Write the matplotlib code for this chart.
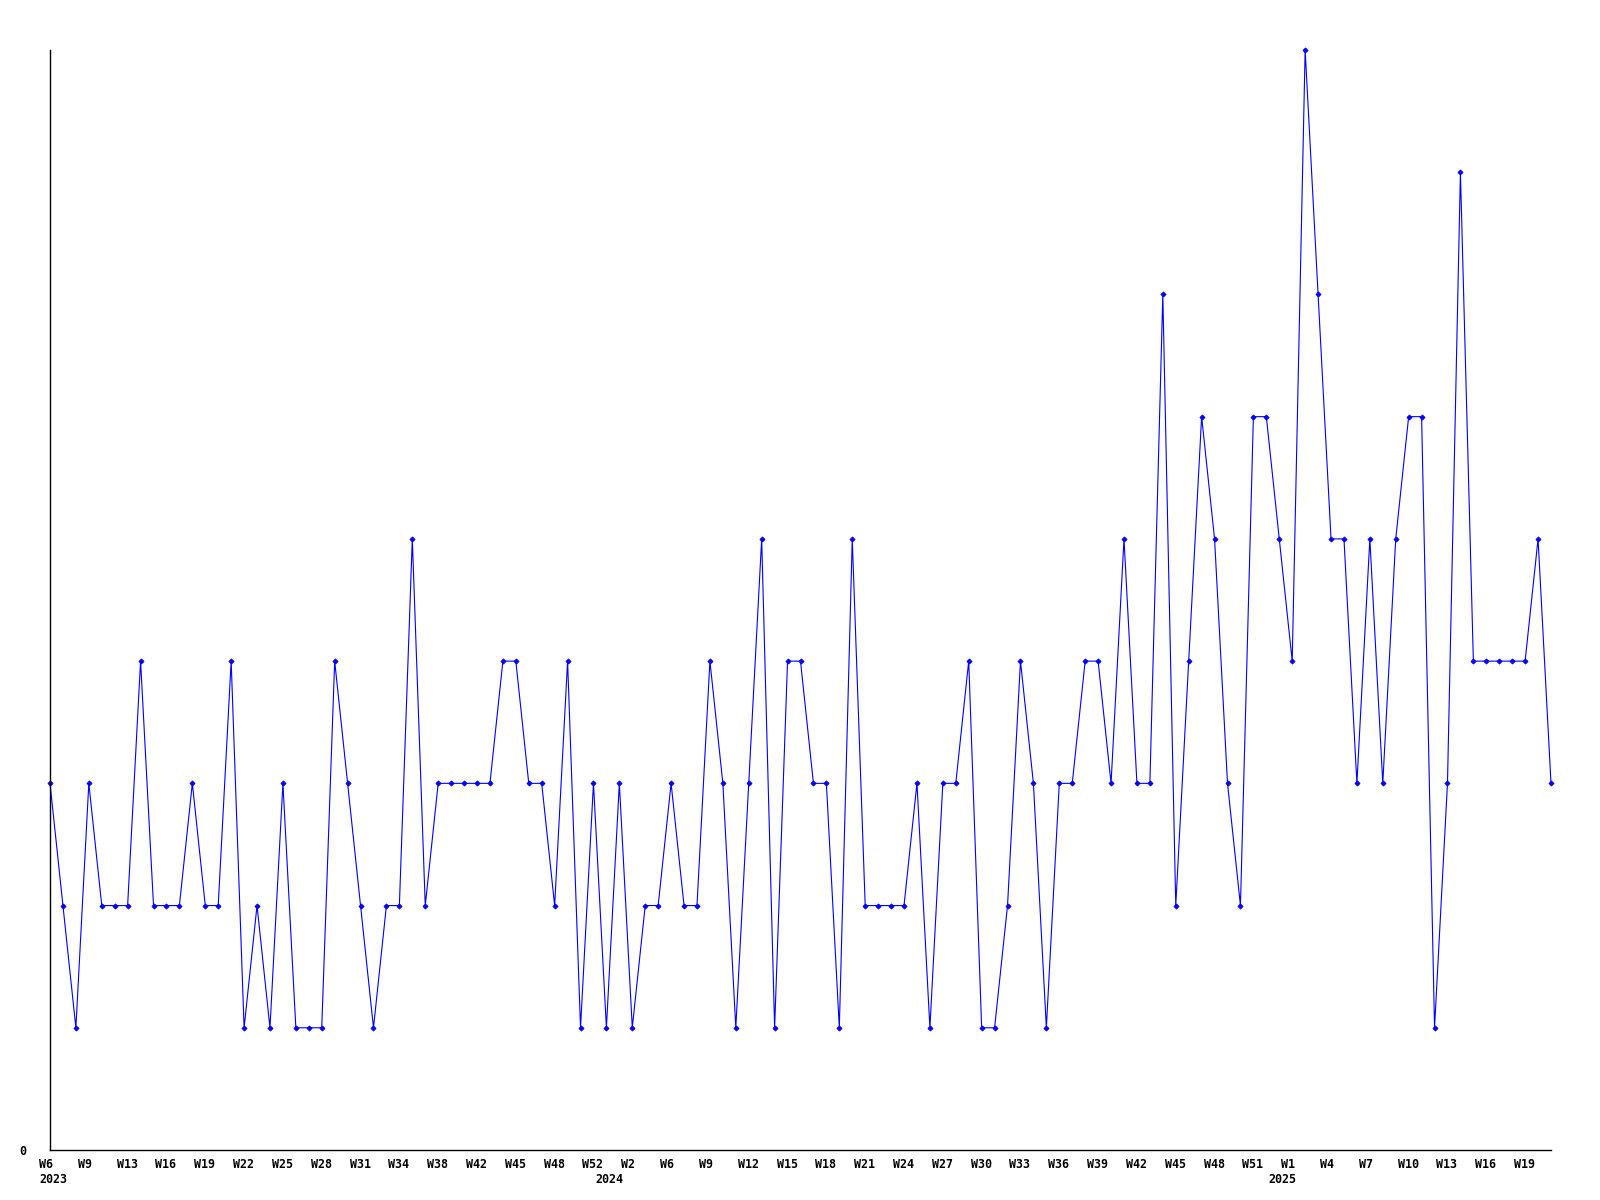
import matplotlib
matplotlib.use("Agg")
import matplotlib.pyplot as plt
import matplotlib.transforms as mtransforms

# weekly values, 2023 W6 .. 2025 W21
values = [
    3, 2, 1, 3, 2, 2, 2, 4, 2, 2, 2, 3, 2, 2, 4, 1, 2, 1, 3, 1,
    1, 1, 4, 3, 2, 1, 2, 2, 5, 2, 3, 3, 3, 3, 3, 4, 4, 3, 3, 2,
    4, 1, 3, 1, 3, 1, 2, 2, 3, 2, 2, 4, 3, 1, 3, 5, 1, 4, 4, 3,
    3, 1, 5, 2, 2, 2, 2, 3, 1, 3, 3, 4, 1, 1, 2, 4, 3, 1, 3, 3,
    4, 4, 3, 5, 3, 3, 7, 2, 4, 6, 5, 3, 2, 6, 6, 5, 4, 9, 7, 5,
    5, 3, 5, 3, 5, 6, 6, 1, 3, 8, 4, 4, 4, 4, 4, 5, 3,
]

# one label every third point
week_labels = [
    "W6", "W9", "W13", "W16", "W19", "W22", "W25", "W28", "W31", "W34",
    "W38", "W42", "W45", "W48", "W52", "W2", "W6", "W9", "W12", "W15",
    "W18", "W21", "W24", "W27", "W30", "W33", "W36", "W39", "W42", "W45",
    "W48", "W51", "W1", "W4", "W7", "W10", "W13", "W16", "W19",
]
years = ["2023", "2024", "2025"]
year_start = [0, 43, 95]  # index of first point of each year

x = list(range(len(values)))

fig = plt.figure(figsize=(16, 12), dpi=100)
ax = fig.add_axes([50 / 1600, 50 / 1200, 1501 / 1600, 1100 / 1200])

ax.plot(x, values, color="#0000ff", linewidth=0.8, marker="D",
        markersize=2.6, markeredgewidth=0.6, clip_on=False)

ax.set_xlim(0, len(values) - 1)
ax.set_ylim(0, 9)

for side in ["top", "right"]:
    ax.spines[side].set_visible(False)
for side in ["left", "bottom"]:
    ax.spines[side].set_linewidth(1.0)
    ax.spines[side].set_color("black")

font = dict(family="DejaVu Sans Mono", fontweight="bold", fontsize=8.4)

ax.set_yticks([0])
ax.set_yticklabels(["0"], **font)
ax.tick_params(axis="y", length=0, pad=17)

ax.set_xticks([])
# labels sit left-aligned, a bit left of their point
shift = mtransforms.ScaledTranslation(-11 / 100, 0, fig.dpi_scale_trans)
trans = mtransforms.blended_transform_factory(ax.transData, fig.transFigure) + shift
for i, lab in enumerate(week_labels):
    ax.text(3 * i, 1 - 1158 / 1200, lab, transform=trans, ha="left", va="top",
            clip_on=False, **font)
for yr, i in zip(years, year_start):
    ax.text(i, 1 - 1173 / 1200, yr, transform=trans, ha="left", va="top",
            clip_on=False, **font)

fig.savefig("out.png", dpi=100, facecolor="white")
plt.close(fig)
